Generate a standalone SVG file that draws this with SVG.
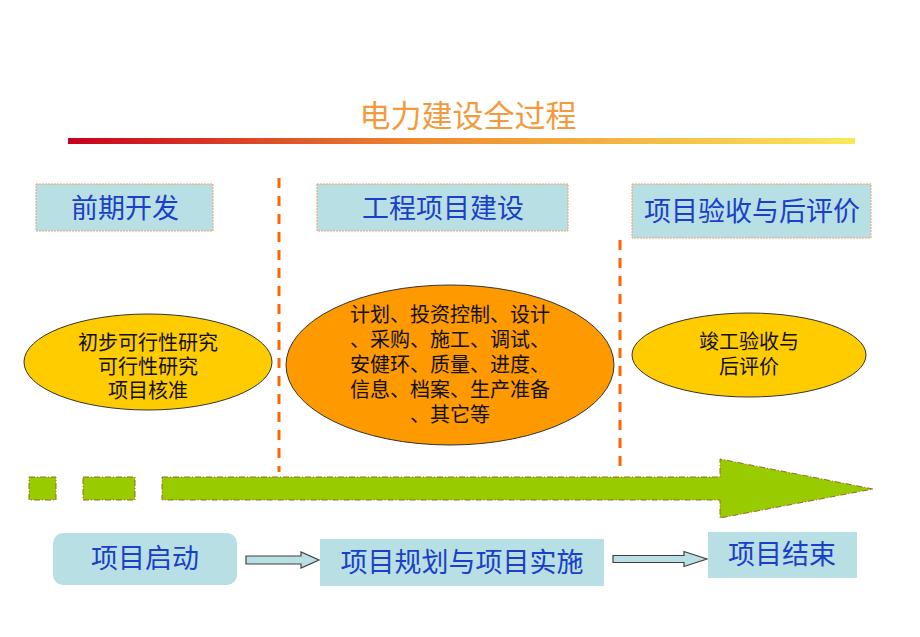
<svg xmlns="http://www.w3.org/2000/svg" width="920" height="637" viewBox="0 0 920 637">
<defs>
<linearGradient id="bar" x1="0" y1="0" x2="1" y2="0">
<stop offset="0" stop-color="#C8001E"/>
<stop offset="0.45" stop-color="#EE8A30"/>
<stop offset="1" stop-color="#FAE85A"/>
</linearGradient>
<style>
.cjk{font-family:"Noto Sans CJK SC","Liberation Sans",sans-serif;}
.head{fill:#B8DFE3;stroke:#EBA070;stroke-width:1;stroke-dasharray:2,1;}
.htxt{font-size:27px;fill:#1A3FC8;text-anchor:middle;}
.etxt{font-size:20px;fill:#111;text-anchor:middle;}
.ell{stroke:#333;stroke-width:1;}
.sep{stroke:#FF6600;stroke-width:3;stroke-dasharray:10,8;fill:none;}
.green{fill:#99CC00;stroke:#996633;stroke-width:1;stroke-dasharray:6,2,1,2;}
.bbox{fill:#B8DFE3;}
.barrow{fill:#B8DFE3;stroke:#404040;stroke-width:1.2;}
</style>
</defs>
<rect width="920" height="637" fill="#fff"/>
<g id="title">
<text class="cjk" x="468" y="127" font-size="31" fill="#F39A3C" text-anchor="middle">电力建设全过程</text>
<rect x="68" y="138" width="787" height="6" fill="url(#bar)"/>
</g>
<g id="connectors">
<line class="sep" x1="279" y1="178" x2="279" y2="472"/>
<line class="sep" x1="620" y1="240" x2="620" y2="472"/>
<rect class="green" x="29" y="477" width="27" height="23"/>
<rect class="green" x="83" y="477" width="52" height="23"/>
<path class="green" d="M162,477 H720 V459 L873,489 L720,518 V500 H162 Z"/>
<path class="barrow" d="M246,556 H301 V552 L319,560 L301,568 V564 H246 Z"/>
<path class="barrow" d="M613,555.5 H684 V551.5 L707,559 L684,566.5 V562.5 H613 Z"/>
</g>
<g id="phase1">
<rect class="head" x="36" y="184" width="177" height="47"/>
<text class="cjk htxt" x="125" y="218">前期开发</text>
</g>
<g id="phase2">
<rect class="head" x="317" y="184" width="251" height="47"/>
<text class="cjk htxt" x="443" y="218">工程项目建设</text>
</g>
<g id="phase3">
<rect class="head" x="632" y="184" width="239" height="54"/>
<text class="cjk htxt" x="752" y="221">项目验收与后评价</text>
</g>
<g id="ellipse1">
<ellipse class="ell" cx="148" cy="362" rx="124" ry="48" fill="#FFCC00"/>
<text class="cjk etxt"><tspan x="148" y="350">初步可行性研究</tspan><tspan x="148" y="374">可行性研究</tspan><tspan x="148" y="398">项目核准</tspan></text>
</g>
<g id="ellipse2">
<ellipse class="ell" cx="450" cy="365" rx="164" ry="80" fill="#FF9900"/>
<text class="cjk etxt"><tspan x="450" y="322">计划、投资控制、设计</tspan><tspan x="450" y="347">、采购、施工、调试、</tspan><tspan x="450" y="372">安健环、质量、进度、</tspan><tspan x="450" y="397">信息、档案、生产准备</tspan><tspan x="450" y="422">、其它等</tspan></text>
</g>
<g id="ellipse3">
<ellipse class="ell" cx="749" cy="355" rx="117" ry="42" fill="#FFCC00"/>
<text class="cjk etxt"><tspan x="749" y="349">竣工验收与</tspan><tspan x="749" y="374">后评价</tspan></text>
</g>
<g id="start">
<rect class="bbox" x="53" y="533" width="184" height="52" rx="10"/>
<text class="cjk htxt" x="145" y="568">项目启动</text>
</g>
<g id="implement">
<rect class="bbox" x="320" y="539" width="284" height="47"/>
<text class="cjk htxt" x="462" y="572">项目规划与项目实施</text>
</g>
<g id="end">
<rect class="bbox" x="708" y="532" width="149" height="46"/>
<text class="cjk htxt" x="782" y="564">项目结束</text>
</g>
</svg>
